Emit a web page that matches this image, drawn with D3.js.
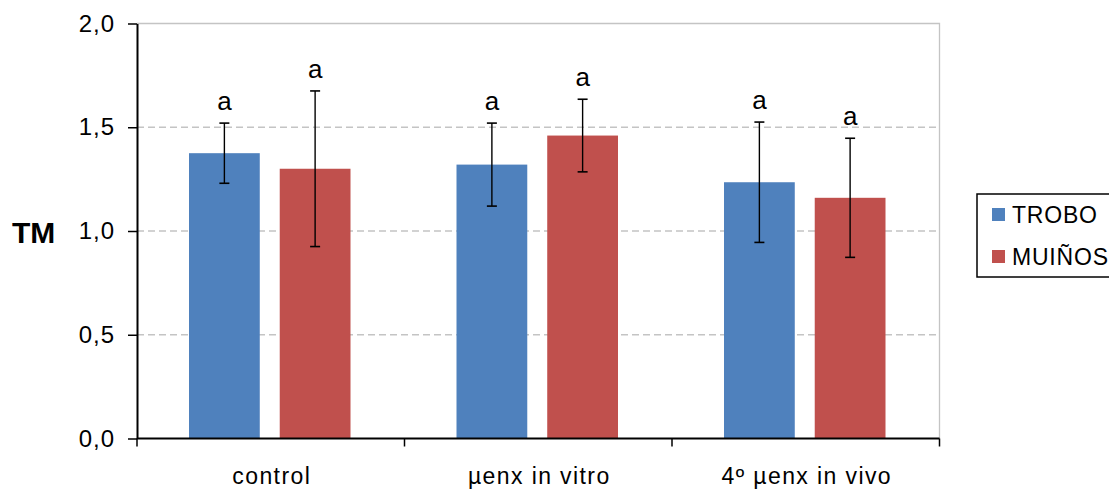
<!DOCTYPE html>
<html>
<head>
<meta charset="utf-8">
<script src="https://cdn.jsdelivr.net/npm/d3@7"></script>
<style>
  html, body { margin: 0; padding: 0; background: #fff; }
  svg { display: block; font-family: "Liberation Sans", Arial, sans-serif; }
</style>
</head>
<body>
<svg id="chart" width="1109" height="490"></svg>
<script>
// Treatments on the x axis
const categories = ["control", "µenx in vitro", "4º µenx in vivo"];
// Series names and colours
const seriesNames = ["TROBO", "MUIÑOS"];
const seriesColors = ["#4F81BD", "#C0504D"];
// Mean TM per treatment, one array per series
const troboMeans = [1.375, 1.32, 1.235];
const muinosMeans = [1.30, 1.46, 1.16];
// Error bar half-widths
const troboErr = [0.145, 0.20, 0.29];
const muinosErr = [0.375, 0.175, 0.287];
// Significance letters above the bars
const troboLetters = ["a", "a", "a"];
const muinosLetters = ["a", "a", "a"];
// Y axis ticks
const yTicks = [0, 0.5, 1.0, 1.5, 2.0];

const rows = categories.map((c, i) => ({
  category: c,
  values: [
    { s: 0, mean: troboMeans[i], err: troboErr[i], letter: troboLetters[i] },
    { s: 1, mean: muinosMeans[i], err: muinosErr[i], letter: muinosLetters[i] }
  ]
}));

const svg = d3.select("#chart");
const plotLeft = 137, plotRight = 939.5, plotTop = 23.5, plotBottom = 438.5;

const x = d3.scaleBand().domain(categories).range([plotLeft, plotRight]).paddingInner(0).paddingOuter(0);
const y = d3.scaleLinear().domain([0, 2]).range([plotBottom, plotTop]);
// Two bars per category, grouped near the band centre with a small gap
const inner = d3.scaleBand().domain([0, 1]).range([52, x.bandwidth() - 54]).paddingInner(0.22);

const fmt = v => d3.format(".1f")(v).replace(".", ",");

// Gridlines: dashed below the top, solid frame on top
svg.append("g")
  .selectAll("line")
  .data(yTicks.filter(t => t > 0 && t < 2))
  .join("line")
  .attr("x1", plotLeft).attr("x2", plotRight)
  .attr("y1", d => y(d)).attr("y2", d => y(d))
  .attr("stroke", "#c4c4c4").attr("stroke-width", 1.3)
  .attr("stroke-dasharray", "7,4");

svg.append("path")
  .attr("d", `M${plotLeft},${y(2)}H${plotRight}V${plotBottom}`)
  .attr("fill", "none").attr("stroke", "#c4c4c4").attr("stroke-width", 1.3);

// Bars
const groups = svg.append("g").selectAll("g")
  .data(rows).join("g")
  .attr("transform", d => `translate(${x(d.category)},0)`);

groups.selectAll("rect")
  .data(d => d.values).join("rect")
  .attr("x", d => inner(d.s))
  .attr("width", inner.bandwidth())
  .attr("y", d => y(d.mean))
  .attr("height", d => y(0) - y(d.mean))
  .attr("fill", d => seriesColors[d.s]);

// Error bars
const eb = groups.selectAll("g.err")
  .data(d => d.values).join("g").attr("class", "err")
  .attr("transform", d => `translate(${inner(d.s) + inner.bandwidth() / 2},0)`);
eb.append("line")
  .attr("x1", 0).attr("x2", 0)
  .attr("y1", d => y(d.mean + d.err)).attr("y2", d => y(d.mean - d.err))
  .attr("stroke", "#000").attr("stroke-width", 1.4);
eb.selectAll("line.cap")
  .data(d => [d.mean + d.err, d.mean - d.err]).join("line").attr("class", "cap")
  .attr("x1", -5).attr("x2", 5)
  .attr("y1", v => y(v)).attr("y2", v => y(v))
  .attr("stroke", "#000").attr("stroke-width", 1.6);
eb.append("text")
  .attr("y", d => y(d.mean + d.err) - 13)
  .attr("text-anchor", "middle")
  .attr("font-size", 26)
  .attr("fill", "#000")
  .text(d => d.letter);

// Y axis
const yAxis = svg.append("g")
  .attr("transform", `translate(${plotLeft},0)`)
  .call(d3.axisLeft(y).tickValues(yTicks).tickFormat(fmt).tickSize(9).tickSizeOuter(0));
yAxis.select(".domain").attr("stroke", "#000").attr("stroke-width", 2);
yAxis.selectAll(".tick line").attr("stroke", "#000").attr("stroke-width", 1.5);
yAxis.selectAll(".tick text")
  .attr("font-size", 24).attr("fill", "#000").attr("x", -22)
  .attr("letter-spacing", 1)
  .attr("font-family", "Liberation Sans, Arial, sans-serif");

// X axis with ticks at the category boundaries
const xAxis = svg.append("g").attr("transform", `translate(0,${plotBottom})`);
xAxis.append("line")
  .attr("x1", plotLeft).attr("x2", plotRight).attr("y1", 0).attr("y2", 0)
  .attr("stroke", "#000").attr("stroke-width", 2);
const bounds = categories.map(c => x(c)).concat([x(categories[categories.length - 1]) + x.bandwidth()]);
xAxis.selectAll("line.tick")
  .data(bounds).join("line").attr("class", "tick")
  .attr("x1", d => d).attr("x2", d => d).attr("y1", 0).attr("y2", 8)
  .attr("stroke", "#000").attr("stroke-width", 1.5);
xAxis.selectAll("text")
  .data(categories).join("text")
  .attr("x", d => x(d) + x.bandwidth() / 2 + 1)
  .attr("y", 45)
  .attr("text-anchor", "middle")
  .attr("font-size", 23)
  .attr("letter-spacing", 1.4)
  .attr("fill", "#000")
  .text(d => d);

// Y axis title
svg.append("text")
  .attr("x", 12).attr("y", 243)
  .attr("font-size", 30).attr("font-weight", "bold").attr("fill", "#000")
  .text("TM");

// Legend
const legend = svg.append("g");
legend.append("rect")
  .attr("x", 977).attr("y", 194).attr("width", 170).attr("height", 83)
  .attr("fill", "#fff").attr("stroke", "#000").attr("stroke-width", 1.5);
const li = legend.selectAll("g.item")
  .data(seriesNames).join("g").attr("class", "item")
  .attr("transform", (d, i) => `translate(992,${208 + i * 42})`);
li.append("rect").attr("width", 13).attr("height", 13).attr("fill", (d, i) => seriesColors[i]);
li.append("text")
  .attr("x", 20).attr("y", 15)
  .attr("font-size", 23).attr("letter-spacing", 0.8).attr("fill", "#000")
  .text(d => d);
</script>
</body>
</html>
